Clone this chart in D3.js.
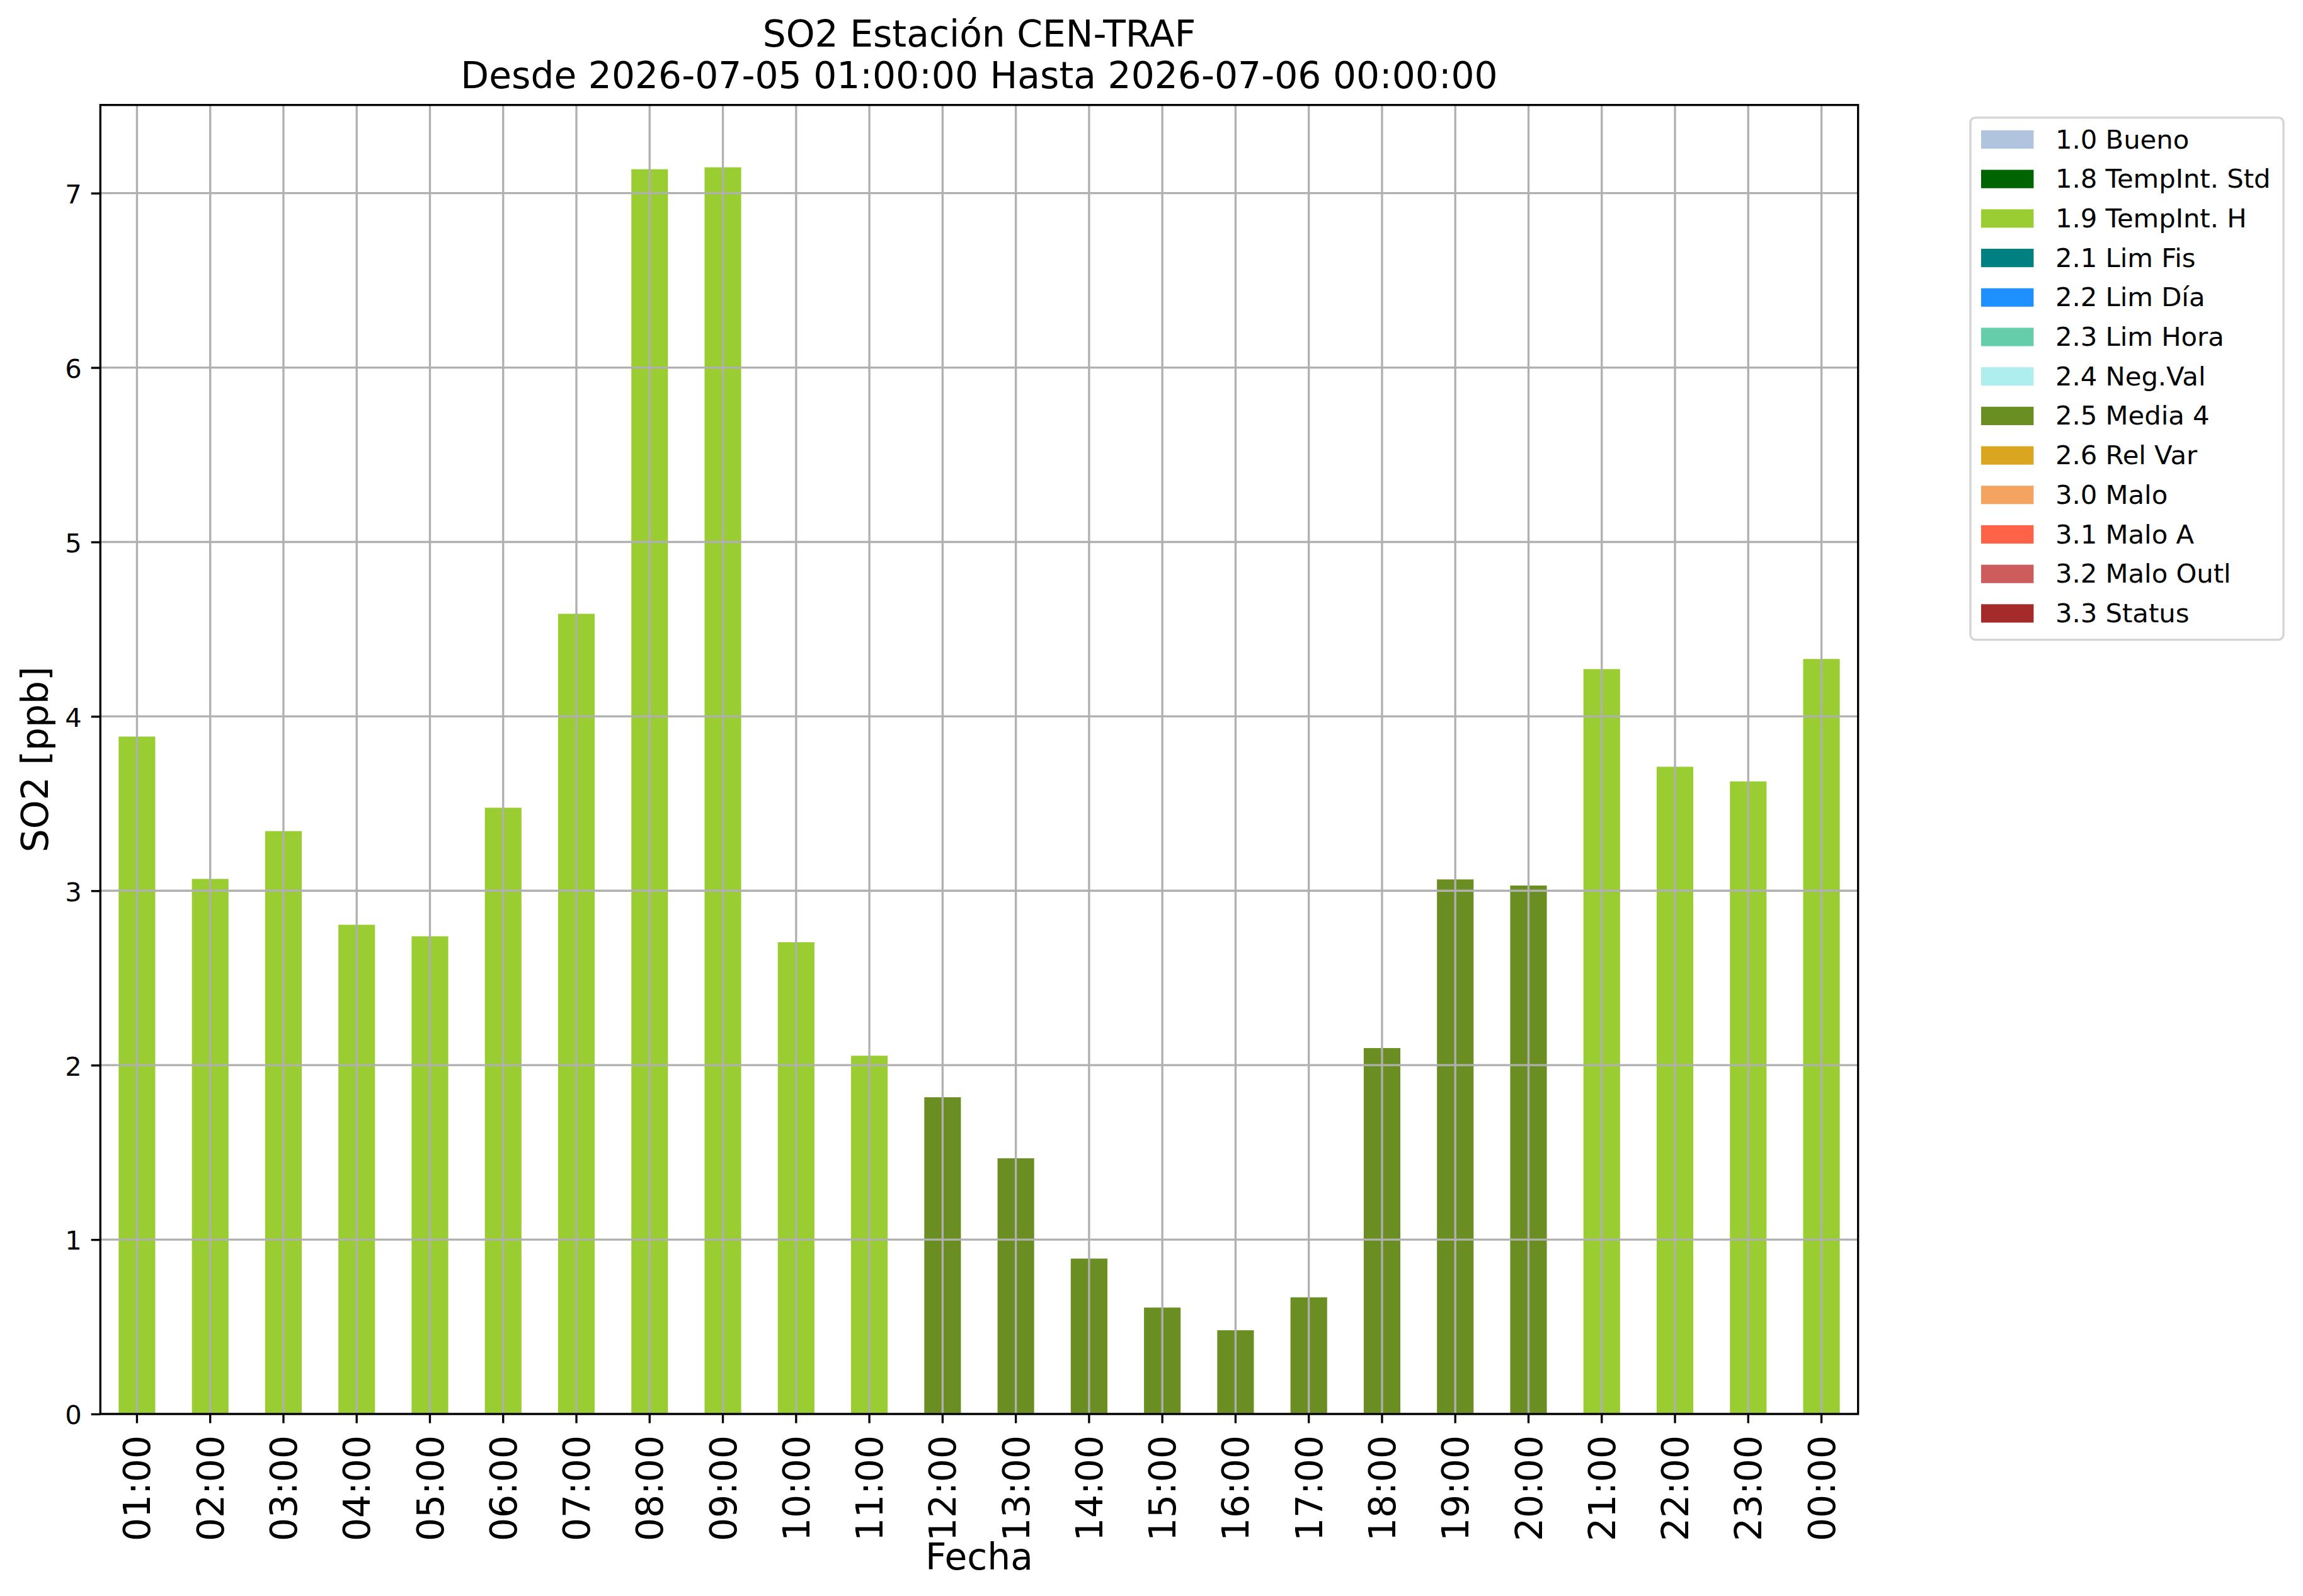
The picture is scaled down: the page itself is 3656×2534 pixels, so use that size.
<!DOCTYPE html>
<html>
<head>
<meta charset="utf-8">
<script src="https://cdn.jsdelivr.net/npm/d3@7"></script>
<style>
  body { margin: 0; background: #fff; }
  text { font-family: "DejaVu Sans", sans-serif; fill: #000; }
</style>
</head>
<body>
<div id="so2-chart"></div>
<script>

//Hour labels on the x axis
var hours = ["01:00", "02:00", "03:00", "04:00", "05:00", "06:00", "07:00", "08:00",
  "09:00", "10:00", "11:00", "12:00", "13:00", "14:00", "15:00", "16:00",
  "17:00", "18:00", "19:00", "20:00", "21:00", "22:00", "23:00", "00:00"];

//SO2 hourly values [ppb]
var so2 = [3.884, 3.068, 3.342, 2.805, 2.739, 3.476, 4.588, 7.137,
  7.148, 2.705, 2.054, 1.816, 1.466, 0.891, 0.610, 0.480,
  0.669, 2.098, 3.065, 3.030, 4.271, 3.711, 3.627, 4.329];

//Validation flag of each hour
var flags = ["1.9 TempInt. H", "1.9 TempInt. H", "1.9 TempInt. H", "1.9 TempInt. H",
  "1.9 TempInt. H", "1.9 TempInt. H", "1.9 TempInt. H", "1.9 TempInt. H",
  "1.9 TempInt. H", "1.9 TempInt. H", "1.9 TempInt. H", "2.5 Media 4",
  "2.5 Media 4", "2.5 Media 4", "2.5 Media 4", "2.5 Media 4",
  "2.5 Media 4", "2.5 Media 4", "2.5 Media 4", "2.5 Media 4",
  "1.9 TempInt. H", "1.9 TempInt. H", "1.9 TempInt. H", "1.9 TempInt. H"];

//Legend entries and their colors
var legendLabels = ["1.0 Bueno", "1.8 TempInt. Std", "1.9 TempInt. H", "2.1 Lim Fis",
  "2.2 Lim Día", "2.3 Lim Hora", "2.4 Neg.Val", "2.5 Media 4", "2.6 Rel Var",
  "3.0 Malo", "3.1 Malo A", "3.2 Malo Outl", "3.3 Status"];
var legendColors = ["lightsteelblue", "darkgreen", "yellowgreen", "teal",
  "dodgerblue", "mediumaquamarine", "paleturquoise", "olivedrab", "goldenrod",
  "sandybrown", "tomato", "indianred", "brown"];

var yTicks = [0, 1, 2, 3, 4, 5, 6, 7];

var drawSo2Chart = function(){

//Width and height
var w = 3656;
var h = 2534;

//Plot area
var pLeft = 159.3, pRight = 2949.7, pTop = 166.7, pBottom = 2245;

var tickFont = 41.7;   //10pt
var labelFont = 58.3;  //14pt
var lw = 3.33;         //0.8pt

var data = hours.map(function(d, i) {
  return { hour: d, value: so2[i], flag: flags[i] };
});

//Scales
var xScale = d3.scaleBand()
  .domain(hours)
  .range([pLeft, pRight])
  .paddingInner(0.5)
  .paddingOuter(0.25);

var yScale = d3.scaleLinear()
  .domain([0, d3.max(so2) * 1.05])
  .range([pBottom, pTop]);

var colors = d3.scaleOrdinal()
  .domain(legendLabels)
  .range(legendColors);

var xCenter = function(d) { return xScale(d) + xScale.bandwidth() / 2; };

//Create SVG element
var svg = d3.select("#so2-chart")
  .append("svg")
  .attr("width", w)
  .attr("height", h);

svg.append("rect")
  .attr("width", w)
  .attr("height", h)
  .attr("fill", "#fff");

//Bars
svg.append("g")
  .selectAll("rect")
  .data(data)
  .enter()
  .append("rect")
  .attr("x", function(d) { return xScale(d.hour); })
  .attr("y", function(d) { return yScale(d.value); })
  .attr("width", xScale.bandwidth())
  .attr("height", function(d) { return yScale(0) - yScale(d.value); })
  .attr("fill", function(d) { return colors(d.flag); });

//Grid (drawn over the bars, like the original)
var grid = svg.append("g")
  .attr("stroke", "#b0b0b0")
  .attr("stroke-width", lw);

grid.selectAll("line.gx")
  .data(hours)
  .enter()
  .append("line")
  .attr("class", "gx")
  .attr("x1", xCenter)
  .attr("x2", xCenter)
  .attr("y1", pTop)
  .attr("y2", pBottom);

grid.selectAll("line.gy")
  .data(yTicks)
  .enter()
  .append("line")
  .attr("class", "gy")
  .attr("x1", pLeft)
  .attr("x2", pRight)
  .attr("y1", function(d) { return yScale(d); })
  .attr("y2", function(d) { return yScale(d); });

//Axes
var xAxis = d3.axisBottom(xScale)
  .tickSize(14.6)
  .tickPadding(14.6)
  .tickSizeOuter(0);

var yAxis = d3.axisLeft(yScale)
  .tickValues(yTicks)
  .tickFormat(d3.format("d"))
  .tickSize(14.6)
  .tickPadding(14.6)
  .tickSizeOuter(0);

var gx = svg.append("g")
  .attr("transform", "translate(0," + pBottom + ")")
  .call(xAxis);

gx.select(".domain").remove();
gx.selectAll(".tick line").attr("stroke", "#000").attr("stroke-width", lw);
gx.selectAll(".tick text")
  .attr("font-size", labelFont)
  .attr("font-family", "DejaVu Sans")
  .attr("fill", "#000")
  .attr("text-anchor", "end")
  .attr("transform", "rotate(-90)")
  .attr("x", -34)
  .attr("y", 0)
  .attr("dy", "0.36em");

var gy = svg.append("g")
  .attr("transform", "translate(" + pLeft + ",0)")
  .call(yAxis);

gy.select(".domain").remove();
gy.selectAll(".tick line").attr("stroke", "#000").attr("stroke-width", lw);
gy.selectAll(".tick text")
  .attr("font-size", tickFont)
  .attr("font-family", "DejaVu Sans")
  .attr("fill", "#000")
  .attr("x", -29.5)
  .attr("dy", "0.38em");

//Frame
svg.append("rect")
  .attr("x", pLeft)
  .attr("y", pTop)
  .attr("width", pRight - pLeft)
  .attr("height", pBottom - pTop)
  .attr("fill", "none")
  .attr("stroke", "#000")
  .attr("stroke-width", lw);

//Titles
var cx = (pLeft + pRight) / 2;

svg.append("text")
  .attr("x", cx)
  .attr("y", 74)
  .attr("text-anchor", "middle")
  .attr("font-size", labelFont)
  .text("SO2 Estación CEN-TRAF");

svg.append("text")
  .attr("x", cx)
  .attr("y", 140)
  .attr("text-anchor", "middle")
  .attr("font-size", labelFont)
  .text("Desde 2026-07-05 01:00:00 Hasta 2026-07-06 00:00:00");

svg.append("text")
  .attr("x", cx)
  .attr("y", 2492)
  .attr("text-anchor", "middle")
  .attr("font-size", labelFont)
  .text("Fecha");

svg.append("text")
  .attr("transform", "translate(76," + ((pTop + pBottom) / 2) + ") rotate(-90)")
  .attr("text-anchor", "middle")
  .attr("font-size", labelFont)
  .text("SO2 [ppb]");

//Legend
var legend = svg.append("g");

legend.append("rect")
  .attr("x", 3128)
  .attr("y", 186.7)
  .attr("width", 497)
  .attr("height", 829)
  .attr("rx", 8)
  .attr("fill", "#fff")
  .attr("stroke", "#d6d6d6")
  .attr("stroke-width", 3.5);

var rowY = d3.scaleLinear()
  .domain([0, legendLabels.length - 1])
  .range([221.5, 221.5 + 62.7 * (legendLabels.length - 1)]);

var rows = legend.selectAll("g.row")
  .data(legendLabels)
  .enter()
  .append("g")
  .attr("class", "row")
  .attr("transform", function(d, i) { return "translate(0," + rowY(i) + ")"; });

rows.append("rect")
  .attr("x", 3145)
  .attr("y", -14.6)
  .attr("width", 83.4)
  .attr("height", 29.2)
  .attr("fill", function(d) { return colors(d); });

rows.append("text")
  .attr("x", 3263)
  .attr("y", 14)
  .attr("font-size", tickFont)
  .text(function(d) { return d; });

}

drawSo2Chart();

</script>
</body>
</html>
